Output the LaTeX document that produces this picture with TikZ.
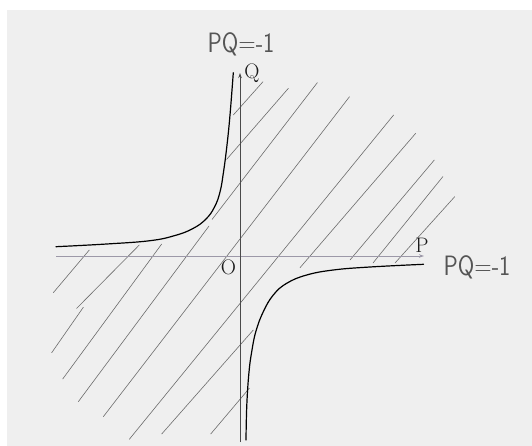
\documentclass[tikz,border=0pt]{standalone}
\usepackage{fontspec}
\usetikzlibrary{arrows.meta}
\definecolor{bggray}{HTML}{EFEFEF}
\definecolor{hatchc}{HTML}{6C6C6C}
\definecolor{haxis}{HTML}{9C98A8}
\definecolor{vaxis}{HTML}{4A4A4A}
\definecolor{handc}{HTML}{555555}
\begin{document}
\begin{tikzpicture}[x=1pt,y=-1pt,
  hatch/.style={draw=hatchc,line width=0.6pt,line cap=round},
  curve/.style={draw=black,line width=1.2pt,line cap=round},
  axlbl/.style={font=\fontsize{21}{21}\selectfont,inner sep=0pt,text=black!90},
  hand/.style={font=\sffamily\fontsize{28}{28}\selectfont,inner sep=0pt,text=handc},
  axarrow/.style={-{Stealth[length=5pt,width=3.5pt]}}]
\useasboundingbox (0,0) rectangle (532,446);
\fill[white] (0,0) rectangle (532,446);
\fill[bggray] (7,10) rectangle (532,446);

% hatching
\draw[hatch] (53.3,292.7) -- (89.3,250);
\draw[hatch] (76.7,308.3) -- (139.3,245);
\draw[hatch] (51.7,352.7) -- (83.3,307.3);
\draw[hatch] (62.7,379) -- (161.7,244);
\draw[hatch] (78.3,401.7) -- (209,226);
\draw[hatch] (212,219.5) -- (317.3,82.7);
\draw[hatch] (103.3,416.7) -- (349.5,96.7);
\draw[hatch] (129.3,439.3) -- (393.6,115);
\draw[hatch] (161.7,434) -- (253.3,330);
\draw[hatch] (210.7,434) -- (249.3,388.3);
\draw[hatch] (263,81.7) -- (233.3,115);
\draw[hatch] (288.4,88.3) -- (226.7,159.3);
\draw[hatch] (415.7,133.3) -- (300,267.7);
\draw[hatch] (434.3,160) -- (350,260);
\draw[hatch] (442.8,176.7) -- (373,263);
\draw[hatch] (454.7,196.7) -- (395,263);

% axes
\coordinate (hstart) at (56,256);
\coordinate (hend) at (424,256);
\coordinate (vstart) at (240,442);
\coordinate (vend) at (240,73);
\draw[haxis,line width=0.9pt,axarrow] (hstart) -- (hend);
\draw[vaxis,line width=0.7pt,axarrow] (vstart) -- (vend);

% hyperbola branches PQ=-1
\draw[curve] plot[smooth,tension=0.7] coordinates {
  (56,246.7) (106.7,244) (150,240.7) (175,235.5) (193,228.5)
  (206,219) (214.5,207) (220,192) (223.5,172) (227,145)
  (230,115) (233.3,72.7)};
\draw[curve] plot[smooth,tension=0.7] coordinates {
  (246,440) (246.8,405) (249,372) (252,350) (256,331)
  (263.3,311.7) (273.3,295) (286.7,283.3) (306.7,275) (333.3,270)
  (370,267) (423.5,264.3)};

% labels
\node[axlbl] (Q) at (252,73) {Q};
\node[axlbl] (P) at (422,245) {P};
\node[axlbl] (O) at (228.5,267) {O};
\node[hand] (top) at (241,44) {\scalebox{0.85}[1]{PQ=-1}};
\node[hand] (right) at (477,267) {\scalebox{0.85}[1]{PQ=-1}};
\end{tikzpicture}
\end{document}
